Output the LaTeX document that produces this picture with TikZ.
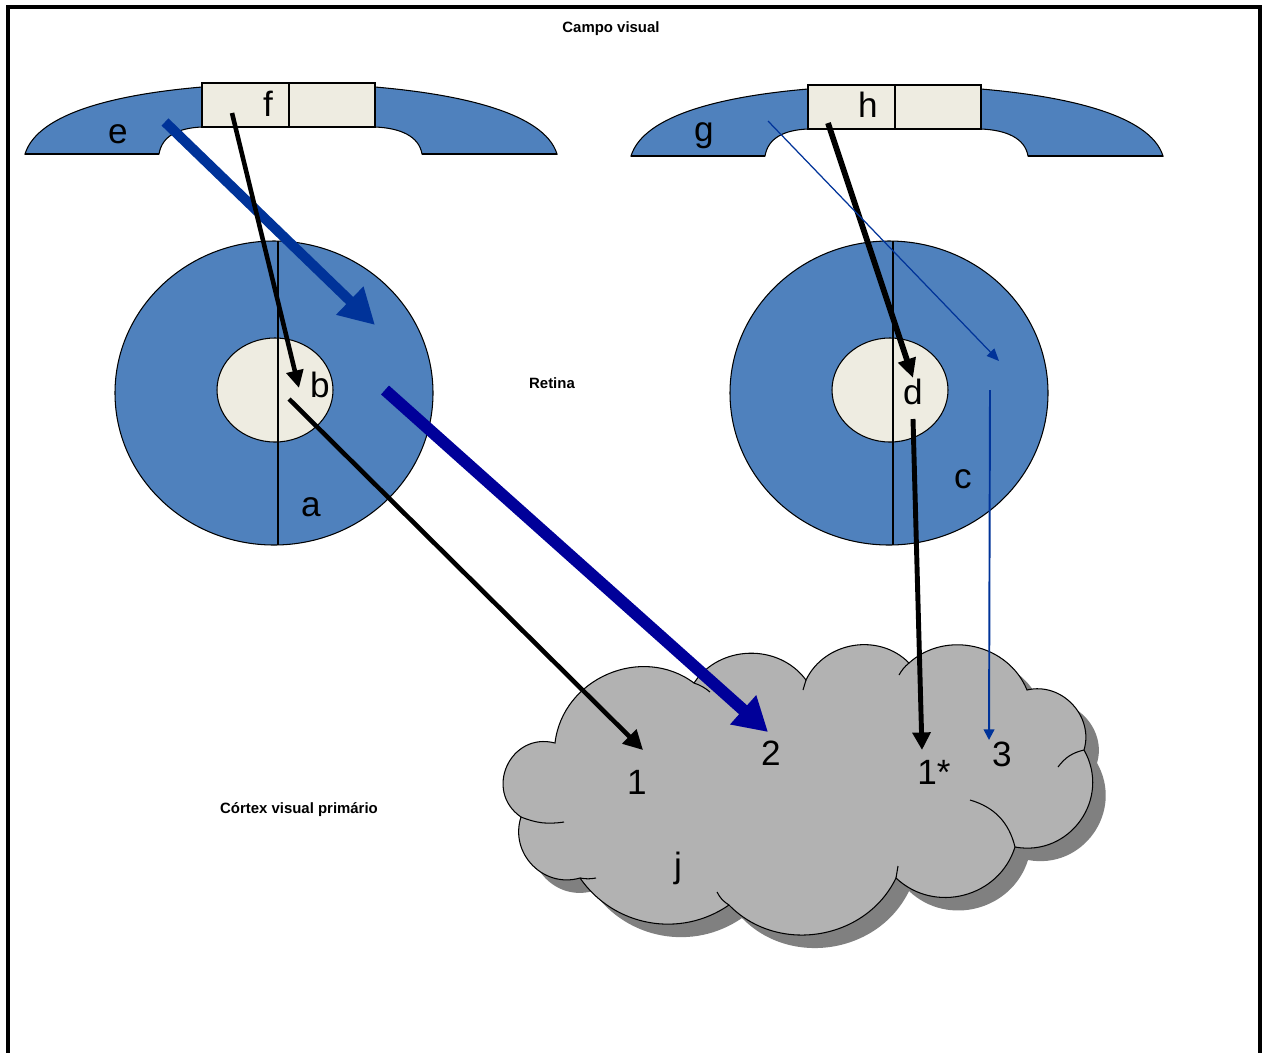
\documentclass[tikz,border=0pt]{standalone}
\usepackage{fontspec}
\setmainfont{Liberation Sans}
\usetikzlibrary{arrows.meta}

\definecolor{eyeblue}{RGB}{79,129,189}
\definecolor{lensfill}{RGB}{238,236,225}
\definecolor{rayblue}{RGB}{0,51,153}
\definecolor{raynavy}{RGB}{0,0,153}
\definecolor{cortexgray}{RGB}{178,178,178}
\definecolor{shadowgray}{RGB}{128,128,128}

\newcommand{\cortexpath}{(555,743) to[bend left=60, looseness=1.1] (694,683)
    to[bend left=55, looseness=1.05] (806,680) to[bend left=55, looseness=1.05] (909,663)
    to[bend left=55, looseness=1.05] (1027,690) to[bend left=60, looseness=1.1] (1084,750)
    to[bend left=65, looseness=1.2] (1015,847) to[bend left=58, looseness=1.1] (896,878)
    to[bend left=55, looseness=1.05] (729,905) to[bend left=45] (580,878)
    to[bend left=62, looseness=1.15] (521,817) to[bend left=80, looseness=1.45] (555,743) -- cycle}

\begin{document}
\begin{tikzpicture}[x=0.02cm, y=-0.02cm,
        lbl/.style={font=\fontsize{20}{24}\selectfont},
        captxt/.style={font=\bfseries\fontsize{8.5}{10}\selectfont}]
    \useasboundingbox (0,0) rectangle (1264,1052);
    \fill[white] (0,0) rectangle (1264,1052);
    \draw [line width=2.3pt] (8,1070) -- (8,7) -- (1260,7) -- (1260,1070);

    % campo visual, both sides
    \foreach \dx/\dy in {0/0, 606/2} {
        \begin{scope}[shift={(\dx,\dy)}]
            \filldraw [fill=eyeblue, line width=0.6pt] (25,154) .. controls (38,112) and (120,94) .. (202,87)
                -- (375,87) .. controls (457,94) and (544,112) .. (557,154) -- (422,154)
                .. controls (419,136) and (400,128) .. (375,127) -- (202,127)
                .. controls (178,128) and (162,136) .. (159,154) -- cycle;
            \draw [line width=1.3pt] (25,154) -- (159,154) (422,154) -- (557,154);
            \filldraw [fill=lensfill, line width=0.6pt] (202,83) rectangle (375,127);
            \draw [line width=0.6pt] (289,83) -- (289,127);
        \end{scope}
    }

    % retinas
    \foreach \cx/\lx in {274/278, 889/893} {
        \filldraw [fill=eyeblue, line width=0.6pt] (\cx,393) ellipse [x radius=159, y radius=152];
        \filldraw [fill=lensfill, line width=0.6pt] (\cx+1,390) ellipse [x radius=58, y radius=52];
        \draw [line width=0.6pt] (\lx,241) -- (\lx,545);
    }

    % cortex cloud
    \fill [shadowgray, shift={(13,13)}] \cortexpath;
    \filldraw [fill=cortexgray, line width=0.6pt] \cortexpath;
    \draw [line width=0.6pt] (521,817) to[bend right=15] (564,822)
        (580,878) to[bend right=10] (596,878)
        (729,905) to[bend left=15] (717,892)
        (896,878) -- (898,866)
        (1015,847) to[bend right=30] (970,800)
        (1084,750) to[bend right=20] (1058,767)
        (909,663) to[bend right=10] (899,675)
        (806,680) -- (803,690)
        (694,683) to[bend left=10] (710,692);

    \coordinate (eTail) at (165,122);
    \coordinate (eHead) at (375,325);
    \coordinate (fTail) at (232,113);
    \coordinate (bHead) at (299,388);
    \coordinate (bTail) at (289,399);
    \coordinate (oneHead) at (643,750);
    \coordinate (retTail) at (385,390);
    \coordinate (twoHead) at (768,732);
    \coordinate (hTail) at (828,123);
    \coordinate (dHead) at (913,378);
    \coordinate (gTail) at (768,121);
    \coordinate (gHead) at (999,361);
    \coordinate (dTail) at (913,419);
    \coordinate (oneStarHead) at (922,750);
    \coordinate (cTail) at (990,390);
    \coordinate (threeHead) at (989,740);

    \draw [rayblue, line width=5.7pt, -{Triangle[length=20pt, width=21pt]}] (eTail) -- (eHead);
    \draw [line width=2.6pt, -{Triangle[length=10pt, width=9.5pt]}] (fTail) -- (bHead);
    \draw [line width=2.6pt, -{Triangle[length=11pt, width=11pt]}] (bTail) -- (oneHead);
    \draw [raynavy, line width=6.8pt, -{Triangle[length=19pt, width=21pt]}] (retTail) -- (twoHead);
    \draw [line width=3.3pt, -{Triangle[length=11pt, width=10pt]}] (hTail) -- (dHead);
    \draw [rayblue, line width=0.7pt, -{Triangle[length=7pt, width=6pt]}] (gTail) -- (gHead);
    \draw [line width=2.8pt, -{Triangle[length=10pt, width=10pt]}] (dTail) -- (oneStarHead);
    \draw [rayblue, line width=1.1pt, -{Triangle[length=6pt, width=6pt]}] (cTail) -- (threeHead);

    \node [lbl] (e) at (118,134) {e};
    \node [lbl] (f) at (268,104) {f};
    \node [lbl] (g) at (704,136) {g};
    \node [lbl] (h) at (868,105) {h};
    \node [lbl] (a) at (311,507) {a};
    \node [lbl] (b) at (320,385) {b};
    \node [lbl] (c) at (963,479) {c};
    \node [lbl] (d) at (913,392) {d};
    \node [lbl] (j) at (678,868) {j};
    \node [lbl] (one) at (637,782) {1};
    \node [lbl] (two) at (771,753) {2};
    \node [lbl] (oneStar) at (934,772) {1*};
    \node [lbl] (three) at (1002,754) {3};

    \node [captxt] (campo) at (611,29) {Campo visual};
    \node [captxt] (retina) at (552,383) {Retina};
    \node [captxt] (cortex) at (299,810) {Córtex visual primário};
\end{tikzpicture}
\end{document}
